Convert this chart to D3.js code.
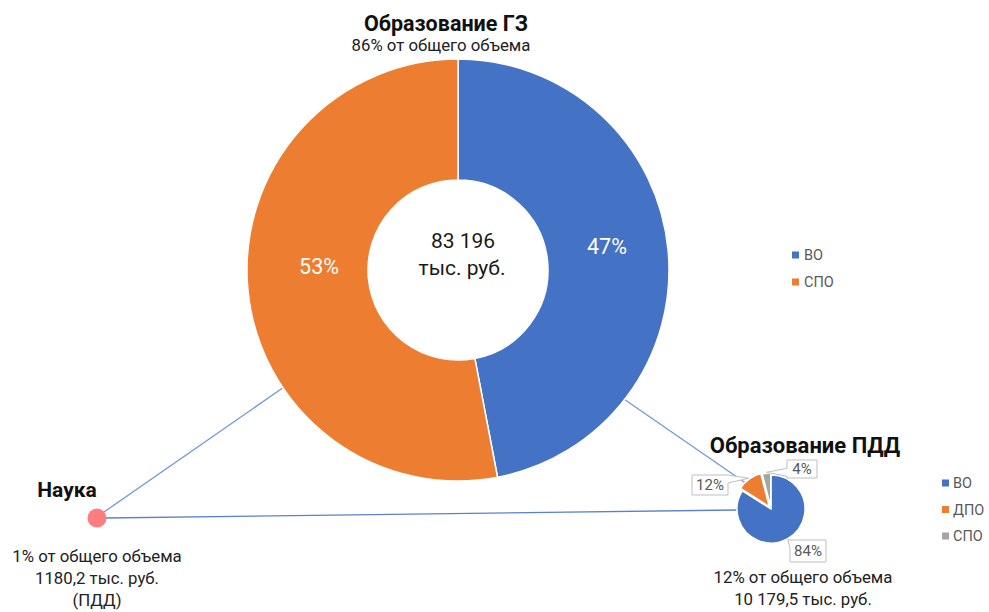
<!DOCTYPE html>
<html lang="ru">
<head>
<meta charset="utf-8">
<script src="https://cdn.jsdelivr.net/npm/d3@7"></script>
<style>
  html, body { margin: 0; padding: 0; background: #fff; }
  svg { display: block; font-family: Roboto, "Noto Sans", sans-serif; }
</style>
</head>
<body>
<svg id="chart" width="989" height="612"></svg>
<script>
// Государственное задание (ГЗ): доли направлений образования
const gzCategories = ["ВО", "СПО"];
const gzShares = [47, 53];
const gzTotal = "83 196";
const gzPart = 86;

// Приносящая доход деятельность (ПДД): доли направлений образования
const pddCategories = ["ВО", "ДПО", "СПО"];
const pddShares = [84, 12, 4];
const pddTotal = "10 179,5";
const pddPart = 12;

// Наука
const scienceTotal = "1180,2";
const sciencePart = 1;

const pddColors = ["#4472C4", "#ED7D31", "#A5A5A5"];
const gzColors = ["#4472C4", "#ED7D31"];

const svg = d3.select("#chart");
const linkColor = "#7497D6";

// ---------- layout ----------
const gz = { cx: 458, cy: 270, r: 211, r0: 90 };
const pdd = { cx: 771, cy: 509, r: 34 };
const dot = { cx: 97, cy: 518, r: 9.5 };

const pie = d3.pie().sort(null).value(d => d);

// ---------- connector lines (drawn first, under the pies) ----------
const gzArcs = pie(gzShares);
const pddArcs = pie(pddShares);
const polar = (c, r, a) => [c.cx + r * Math.sin(a), c.cy - r * Math.cos(a)];

const links = svg.append("g").attr("stroke", linkColor).attr("stroke-width", 1.3).attr("fill", "none");
// из большого кольца к точке «Наука»
const pA = polar(gz, gz.r, 4.12);
links.append("line").attr("x1", pA[0]).attr("y1", pA[1]).attr("x2", dot.cx + 7).attr("y2", dot.cy - 6);
// из большого кольца к диаграмме ПДД
const pB = polar(gz, gz.r, 2.232);
const midDpo = (pddArcs[1].startAngle + pddArcs[1].endAngle) / 2;
const pC = polar(pdd, pdd.r - 2, midDpo - 0.12);
links.append("line").attr("x1", pB[0]).attr("y1", pB[1]).attr("x2", pC[0]).attr("y2", pC[1]);
// от точки «Наука» к диаграмме ПДД
links.append("line").attr("x1", dot.cx + 8).attr("y1", dot.cy)
  .attr("x2", pdd.cx - pdd.r).attr("y2", pdd.cy + 1)
  .attr("stroke", "#5A82CC");

// ---------- main donut ----------
const arcGz = d3.arc().innerRadius(gz.r0).outerRadius(gz.r);
const gGz = svg.append("g").attr("transform", `translate(${gz.cx},${gz.cy})`);
gGz.selectAll("path").data(gzArcs).join("path")
  .attr("d", arcGz)
  .attr("fill", (d, i) => gzColors[i])
  .attr("stroke", "#fff").attr("stroke-width", 1.5);

// подписи долей внутри кольца
const pctPos = [[149, -24], [-139, -4]];
gGz.selectAll("text.pct").data(gzArcs).join("text")
  .attr("class", "pct")
  .attr("x", (d, i) => pctPos[i][0]).attr("y", (d, i) => pctPos[i][1])
  .attr("text-anchor", "middle").attr("dy", "0.36em")
  .attr("fill", "#fff").attr("font-size", 21.5)
  .text(d => d.data + "%");

// центр кольца
const center = svg.append("g").attr("text-anchor", "middle").attr("fill", "#1a1a1a").attr("font-size", 21);
center.append("text").attr("x", gz.cx + 5).attr("y", 248).text(gzTotal);
center.append("text").attr("x", gz.cx + 4).attr("y", 275).text("тыс. руб.");

// заголовок
svg.append("text").attr("x", 446).attr("y", 31).attr("text-anchor", "middle")
  .attr("font-size", 21.5).attr("font-weight", "bold").attr("fill", "#111")
  .text("Образование ГЗ");
svg.append("text").attr("x", 441).attr("y", 51).attr("text-anchor", "middle")
  .attr("font-size", 16.8).attr("fill", "#222")
  .text(`${gzPart}% от общего объема`);

// легенда кольца
const leg1 = svg.append("g").attr("transform", "translate(792,255)");
gzCategories.forEach((c, i) => {
  const row = leg1.append("g").attr("transform", `translate(0,${i * 27})`);
  row.append("rect").attr("x", 0).attr("y", -3.5).attr("width", 7).attr("height", 7).attr("fill", gzColors[i]);
  row.append("text").attr("x", 12).attr("dy", "0.36em").attr("font-size", 14.5).attr("fill", "#595959").text(c);
});

// ---------- PDD pie ----------
const arcPdd = d3.arc().innerRadius(0).outerRadius(pdd.r);
const explode = [0, 3, 2];
const gPdd = svg.append("g").attr("transform", `translate(${pdd.cx},${pdd.cy})`);
gPdd.selectAll("path").data(pddArcs).join("path")
  .attr("transform", (d, i) => {
    const a = (d.startAngle + d.endAngle) / 2;
    return `translate(${explode[i] * Math.sin(a)},${-explode[i] * Math.cos(a)})`;
  })
  .attr("d", arcPdd)
  .attr("fill", (d, i) => pddColors[i])
  .attr("stroke", "#fff").attr("stroke-width", 1.5);

// выноски с процентами
const boxPos = [
  { x0: 790, y0: 540, x1: 826, y1: 562 },
  { x0: 692, y0: 475, x1: 728, y1: 495 },
  { x0: 787, y0: 460, x1: 817, y1: 478 }
];
function calloutPath(b, t) {
  const pts = [];
  const w = 4;
  if (t[0] < b.x0) {
    const yb = Math.max(b.y0 + w, Math.min(b.y1 - w, t[1]));
    pts.push([b.x0, b.y0], [b.x1, b.y0], [b.x1, b.y1], [b.x0, b.y1], [b.x0, yb + w], t, [b.x0, yb - w]);
  } else if (t[0] > b.x1) {
    const yb = Math.max(b.y0 + w, Math.min(b.y1 - w, t[1]));
    pts.push([b.x0, b.y0], [b.x1, b.y0], [b.x1, yb - w], t, [b.x1, yb + w], [b.x1, b.y1], [b.x0, b.y1]);
  } else {
    const xb = Math.max(b.x0 + w, Math.min(b.x1 - w, t[0]));
    pts.push([b.x0, b.y0], [xb - w, b.y0], t, [xb + w, b.y0], [b.x1, b.y0], [b.x1, b.y1], [b.x0, b.y1]);
  }
  return d3.line()(pts) + "Z";
}
const callouts = svg.append("g");
pddArcs.forEach((d, i) => {
  const a = (d.startAngle + d.endAngle) / 2;
  const t = polar(pdd, pdd.r + explode[i] + 1, a);
  const b = boxPos[i];
  callouts.append("path").attr("d", calloutPath(b, t))
    .attr("fill", "#fff").attr("stroke", "#BFBFBF").attr("stroke-width", 1);
  callouts.append("text").attr("x", (b.x0 + b.x1) / 2).attr("y", (b.y0 + b.y1) / 2)
    .attr("dy", "0.36em").attr("text-anchor", "middle")
    .attr("font-size", 15).attr("fill", "#595959").text(d.data + "%");
});

svg.append("text").attr("x", 805).attr("y", 453).attr("text-anchor", "middle")
  .attr("font-size", 22).attr("font-weight", "bold").attr("fill", "#111")
  .text("Образование ПДД");
const pddText = svg.append("g").attr("text-anchor", "middle").attr("font-size", 16.8).attr("fill", "#222");
pddText.append("text").attr("x", 803).attr("y", 583).text(`${pddPart}% от общего объема`);
pddText.append("text").attr("x", 803).attr("y", 605).text(`${pddTotal} тыс. руб.`);

// легенда ПДД
const leg2 = svg.append("g").attr("transform", "translate(942,483)");
pddCategories.forEach((c, i) => {
  const row = leg2.append("g").attr("transform", `translate(0,${i * 26.5})`);
  row.append("rect").attr("x", 0).attr("y", -3.5).attr("width", 7).attr("height", 7).attr("fill", pddColors[i]);
  row.append("text").attr("x", 11).attr("dy", "0.36em").attr("font-size", 14.5).attr("fill", "#595959").text(c);
});

// ---------- Наука ----------
svg.append("circle").attr("cx", dot.cx).attr("cy", dot.cy).attr("r", dot.r).attr("fill", "#FF7C80");
svg.append("text").attr("x", 67).attr("y", 497).attr("text-anchor", "middle")
  .attr("font-size", 21).attr("font-weight", "bold").attr("fill", "#111").text("Наука");
const sci = svg.append("g").attr("text-anchor", "middle").attr("font-size", 16.8).attr("fill", "#222");
sci.append("text").attr("x", 97).attr("y", 562).text(`${sciencePart}% от общего объема`);
sci.append("text").attr("x", 97).attr("y", 584).text(`${scienceTotal} тыс. руб.`);
sci.append("text").attr("x", 97).attr("y", 606).text("(ПДД)");
</script>
</body>
</html>
